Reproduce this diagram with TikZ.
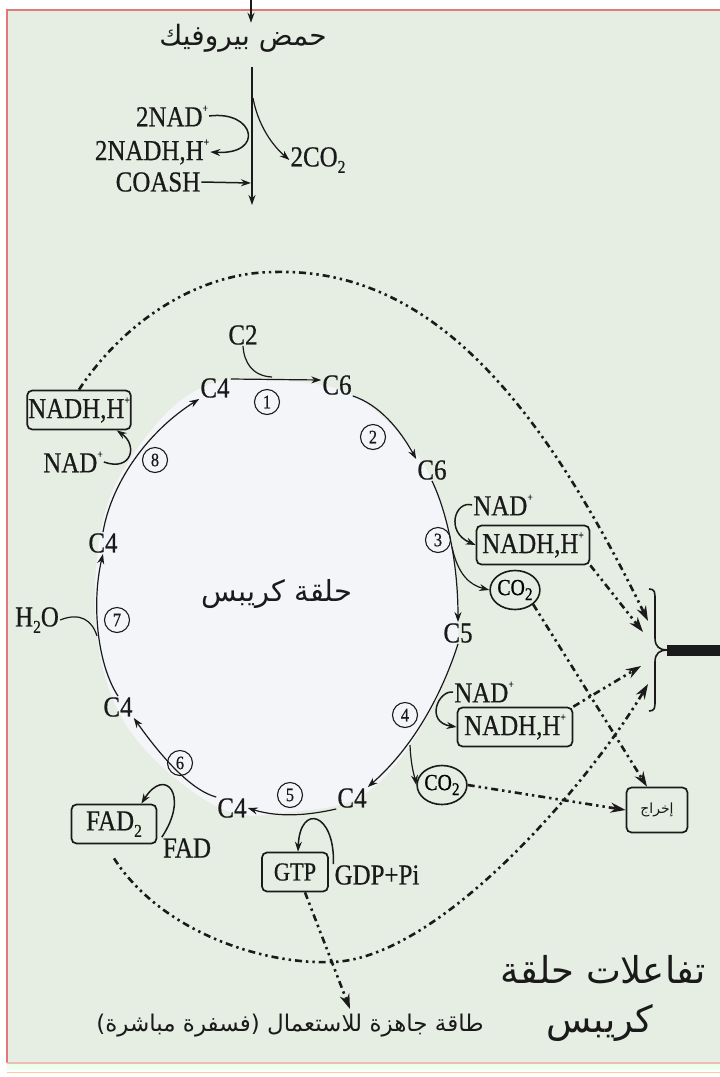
\documentclass[tikz,border=0pt]{standalone}
\usepackage{fontspec}
\setmainfont{Liberation Serif}[FakeStretch=0.86,FakeBold=0.6]
\newfontfamily\arabicfont[Script=Arabic]{DejaVu Sans}
\TeXXeTstate=1
\usetikzlibrary{arrows.meta,shapes.geometric}
\newcommand{\ar}[1]{{\arabicfont\beginR #1\endR}}
\newcommand{\plusup}{\raisebox{0.5em}{\fontsize{11}{11}\selectfont +}}
\newcommand{\subtwo}{\raisebox{-0.22em}{\fontsize{18}{18}\selectfont 2}}
\definecolor{bgg}{HTML}{E6EEE3}
\definecolor{innerc}{HTML}{F3F5F9}
\definecolor{framec}{HTML}{E07A7A}
\definecolor{inkc}{HTML}{1A1A1A}
\begin{document}
\begin{tikzpicture}[x=1pt,y=-1pt,
  lbl/.style={font=\fontsize{29}{30}\selectfont, inner sep=1pt, text=inkc},
  rbox/.style={draw=inkc, rounded corners=5pt, line width=1.7pt, inner xsep=9pt, inner ysep=3pt, minimum height=39pt, lbl},
  oval/.style={ellipse, draw=inkc, line width=1.6pt, inner sep=0pt, minimum width=45pt, minimum height=39pt, font=\fontsize{23}{24}\selectfont},
  cnum/.style={circle, draw=inkc, line width=1.1pt, minimum size=25pt, inner sep=0pt, font=\fontsize{19}{19}\selectfont, text=inkc},
  cyc/.style={draw=inkc, line width=1.2pt},
  arr/.style={cyc, -{Stealth[length=10pt,width=7pt]}},
  dd/.style={draw=inkc, line width=2.6pt, dash pattern=on 7pt off 4pt on 2.4pt off 4pt on 2.4pt off 4pt, -{Stealth[length=15pt,width=10pt]}}
]
\useasboundingbox (0,0) rectangle (720,1077);
% background and frame
\fill[white] (0,0) rectangle (720,1077);
\fill[bgg] (7,10) rectangle (720,1063);
\fill[innerc] plot[smooth cycle, tension=0.6] coordinates {(210,384) (270,380) (350,394) (415,452) (447,520) (458,600) (452,662) (412,742) (360,797) (290,812) (230,812) (168,772) (122,718) (99,650) (96,570) (112,492) (160,420)};
\draw[framec, line width=1.5pt] (7,1063) -- (7,10) -- (720,10);
\draw[framec!50, line width=1.2pt] (7,1063) -- (720,1063);
\fill[green!8] (7,1064) rectangle (720,1070);
\draw[orange!40, line width=1pt] (7,1072) -- (720,1072);

% ---------- pyruvic acid part ----------
\coordinate (topin) at (251,0);
\node[lbl, font=\fontsize{28}{29}\selectfont] (pyr) at (243,38) {\ar{حمض بيروفيك}};
\draw[arr, line width=1.5pt] (topin) -- (topin |- pyr.north);
\coordinate (v1) at (252,67);
\coordinate (v2) at (252,205);
\coordinate (vb) at (253,98);
\coordinate (vc) at (251,183);
\draw[arr] (v1) -- (v2);
\node[lbl] (nad0) at (172,116) {2NAD\plusup};
\node[lbl] (nadh0) at (152,152) {2NADH,H\plusup};
\node[lbl] (co20) at (318,160) {2CO\subtwo};
\node[lbl] (coa) at (158,182) {COASH};
\draw[arr, line width=1.5pt] (nad0.east) .. controls (255,110) and (265,155) .. (nadh0.east);
\draw[arr] (vb) .. controls (258,125) and (272,145) .. (co20.west);
\draw[arr, line width=1.5pt] (coa.east) -- (vc);

% ---------- cycle nodes ----------
\node[lbl] (c4a) at (215,388) {C4};
\node[lbl] (c6a) at (337,385) {C6};
\node[lbl] (c2) at (243,335) {C2};
\node[lbl] (c6b) at (432,470) {C6};
\node[lbl] (c5) at (458,633) {C5};
\node[lbl] (c4b) at (352,798) {C4};
\node[lbl] (c4c) at (232,808) {C4};
\node[lbl] (c4d) at (118,707) {C4};
\node[lbl] (c4e) at (103,543) {C4};
\node[cnum] (n1) at (267,402) {1};
\node[cnum] (n2) at (373,437) {2};
\node[cnum] (n3) at (438,540) {3};
\node[cnum] (n4) at (405,715) {4};
\node[cnum] (n5) at (290,795) {5};
\node[cnum] (n6) at (180,763) {6};
\node[cnum] (n7) at (117,620) {7};
\node[cnum] (n8) at (155,460) {8};
\node[lbl, font=\fontsize{29}{30}\selectfont] (krebs) at (277,594) {\ar{حلقة كريبس}};

% side products
\node[rbox] (nadh8) at (79,410) {NADH,H\plusup};
\node[lbl] (nad8) at (73,462) {NAD\plusup};
\node[lbl] (nad3) at (503,505) {NAD\plusup};
\node[rbox, minimum width=113pt] (nadh3) at (533,545) {NADH,H\plusup};
\node[oval] (co23) at (515,590) {CO\subtwo};
\node[lbl] (nad4) at (484,692) {NAD\plusup};
\node[rbox, minimum width=115pt] (nadh4) at (515,727) {NADH,H\plusup};
\node[oval] (co24) at (442,785) {CO\subtwo};
\node[rbox, minimum width=66pt, font=\fontsize{26}{27}\selectfont, inner xsep=3pt] (gtp) at (295,872) {GTP};
\node[lbl] (gdp) at (377,875) {GDP+Pi};
\node[rbox, minimum width=85pt] (fad2) at (114,824) {FAD\subtwo};
\node[lbl] (fad) at (187,848) {FAD};
\node[lbl] (h2o) at (37,620) {H\subtwo O};
\node[rbox, minimum width=61pt, minimum height=45pt, inner xsep=4pt, font=\fontsize{14}{15}\selectfont] (exit) at (657,810) {\ar{إخراج}};

% ---------- cycle arrows ----------
\draw[arr] ([yshift=9pt]c4a.east) -- ([yshift=5pt]c6a.west);
\draw[cyc] (c2.south) .. controls (244,362) and (252,376) .. (272,377);
\draw[arr] (c6a.south east) .. controls (380,405) and (400,430) .. (c6b.north west);
\draw[arr] (c6b.south) .. controls (446,510) and (458,560) .. (c5.north);
\draw[arr] (c5.south) .. controls (440,700) and (410,750) .. (c4b.north east);
\draw[arr] (c4b.south west) .. controls (310,815) and (280,818) .. (c4c.east);
\draw[arr] (c4c.north west) .. controls (190,790) and (160,755) .. (c4d.south east);
\draw[arr] (c4d.north) .. controls (96,662) and (92,600) .. (c4e.south);
\draw[arr] (c4e.north) .. controls (112,480) and (150,430) .. (c4a.south west);

% ---------- side reactions ----------
\draw[cyc] (h2o.east) .. controls (80,612) and (92,620) .. (97,636);
\draw[arr, line width=1.5pt] (nad8.east) .. controls (132,472) and (138,445) .. ([xshift=-15pt]nadh8.south east);
\coordinate (s3) at (452,547);
\draw[arr, line width=1.5pt] (nad3.west) .. controls (455,500) and (445,532) .. (nadh3.west);
\draw[arr] (s3) .. controls (458,575) and (470,585) .. (co23.west);
\coordinate (s4) at (410,745);
\draw[arr, line width=1.5pt] (nad4.west) .. controls (438,690) and (425,722) .. (nadh4.west);
\draw[arr] (s4) .. controls (411,768) and (415,778) .. (co24.west);
\draw[arr, line width=1.5pt] (gdp.north west) .. controls (335,812) and (300,803) .. ([xshift=3pt]gtp.north);
\draw[arr, line width=1.5pt] (fad.north west) .. controls (190,795) and (165,766) .. ([xshift=-16pt]fad2.north east);

% ---------- brace and bar ----------
\coordinate (brtip) at (667,650);
\draw[inkc, line width=1.6pt] (649,589) .. controls (655,589) and (655,592) .. (655,600) -- (655,638) .. controls (655,647) and (660,650) .. (brtip) .. controls (660,650) and (655,653) .. (655,662) -- (655,700) .. controls (655,708) and (655,711) .. (649,711);
\draw[inkc, line width=11pt] (brtip) -- (720,650);
\coordinate (bt1) at (648,621);
\coordinate (bt2) at (643,632);
\coordinate (bt3) at (641,666);
\coordinate (bt4) at (648,684);

% ---------- dash-dot energy arrows ----------
\coordinate (peak) at (275,272);
\draw[dd] (nadh8.north) .. controls (125,320) and (200,272) .. (peak) .. controls (430,268) and (540,400) .. (bt1);
\draw[dd] (nadh3.south east) -- (bt2);
\draw[dd] (nadh4.north east) -- (bt3);
\coordinate (low) at (333,962);
\draw[dd] ([yshift=-14pt]fad2.south) .. controls (160,930) and (260,965) .. (low) .. controls (440,958) and (590,782) .. (bt4);
\draw[dd] (co23.south east) -- ([xshift=-10pt]exit.north);
\draw[dd] (co24.east) -- (exit.west);
\coordinate (capin) at (350,1009);
\draw[dd] ([xshift=10pt]gtp.south) -- (capin);

% ---------- captions ----------
\node[lbl, font=\fontsize{23}{24}\selectfont] (cap) at (290,1026) {\ar{طاقة جاهزة للاستعمال (فسفرة مباشرة)}};
\node[lbl, font=\fontsize{37}{38}\selectfont] (title1) at (603,970) {\ar{تفاعلات حلقة}};
\node[lbl, font=\fontsize{37}{38}\selectfont] (title2) at (600,1023) {\ar{كريبس}};
\end{tikzpicture}
\end{document}
